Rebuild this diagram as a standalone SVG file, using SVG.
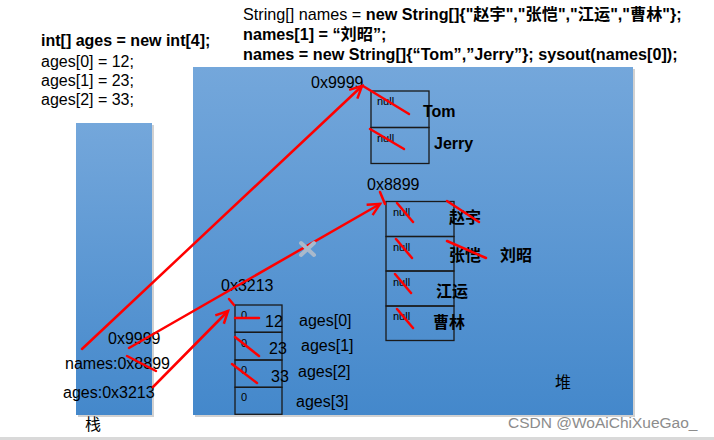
<svg xmlns="http://www.w3.org/2000/svg" width="714" height="440" viewBox="0 0 714 440">
<defs>
<linearGradient id="blue" x1="0" y1="0" x2="0" y2="1">
<stop offset="0" stop-color="#74a7db"/>
<stop offset="1" stop-color="#4488cb"/>
</linearGradient>
<marker id="arr" markerUnits="userSpaceOnUse" markerWidth="16" markerHeight="16" refX="13" refY="7" orient="auto" viewBox="0 0 16 14">
<path d="M1,1 L13,7 L1,13" fill="none" stroke="#ff0000" stroke-width="2.5"/>
</marker>
</defs>
<style>
.t{font-family:"Liberation Sans",Arial,"Noto Sans CJK SC",sans-serif;font-size:16px;fill:#000}
.b{font-weight:bold}
.cr{font-size:16.2px}
.cjk{font-family:"Liberation Sans","Noto Sans CJK SC",sans-serif;font-size:16px;font-weight:bold;fill:#000}
.sm{font-family:"Liberation Sans",Arial,sans-serif;font-size:11px;fill:#000}
.box{fill:none;stroke:#1a1a1a;stroke-width:1.3}
.red{stroke:#ff0000;stroke-width:2.5;fill:none;stroke-linecap:round}
.shadow{fill:#9a9a9a;opacity:0.45}
</style>
<rect x="0" y="0" width="714" height="440" fill="#ffffff"/>
<rect x="0" y="437" width="714" height="3" fill="#d9d9d9"/>

<g id="code-left">
<text class="t b" x="41" y="46">int[] ages = new int[4];</text>
<text class="t" x="41" y="66.5">ages[0] = 12;</text>
<text class="t" x="41" y="85.5">ages[1] = 23;</text>
<text class="t" x="41" y="105">ages[2] = 33;</text>
</g>
<g id="code-right">
<text class="t cr" x="243" y="20">String[] names = <tspan class="b">new String[]{"赵宇","张恺","江运","曹林"};</tspan></text>
<text class="t b cr" x="243" y="39.5">names[1] = “刘昭”;</text>
<text class="t b cr" x="243" y="60">names = new String[]{“Tom”,”Jerry”}; sysout(names[0]);</text>
</g>

<g id="stack">
<rect class="shadow" x="78" y="125" width="76" height="292"/>
<rect x="76" y="123" width="76" height="292" fill="url(#blue)"/>
<text class="t" x="85" y="430">栈</text>
</g>
<g id="heap">
<rect class="shadow" x="195" y="69" width="440" height="348"/>
<rect x="193" y="67" width="440" height="348" fill="url(#blue)"/>
<text class="t" x="555" y="388">堆</text>
</g>

<g id="stack-vars">
<text class="t" x="108" y="343.5" font-size="15.5">0x9999</text>
<text class="t" x="65" y="369" font-size="15.5">names:0x8899</text>
<text class="t" x="63" y="398" font-size="15.5">ages:0x3213</text>
</g>

<g id="array-names-new">
<text class="t" x="311" y="88" font-size="15.5">0x9999</text>
<rect class="box" x="371" y="91" width="58" height="36.5"/>
<rect class="box" x="371" y="127.5" width="58" height="36"/>
<text class="sm" x="377" y="105">null</text>
<text class="sm" x="377" y="142">null</text>
<text class="t b" x="423" y="117">Tom</text>
<text class="t b" x="434" y="149">Jerry</text>
</g>

<g id="array-names">
<text class="t" x="367" y="190" font-size="15.5">0x8899</text>
<rect class="box" x="386" y="201.5" width="68" height="35"/>
<rect class="box" x="386" y="236.5" width="68" height="34.5"/>
<rect class="box" x="386" y="271" width="68" height="35"/>
<rect class="box" x="386" y="306" width="68" height="34.5"/>
<text class="sm" x="393" y="216">null</text>
<text class="sm" x="393" y="251">null</text>
<text class="sm" x="393" y="285.5">null</text>
<text class="sm" x="393" y="320">null</text>
<text class="cjk" x="449" y="223">赵宇</text>
<text class="cjk" x="449" y="261">张恺</text>
<text class="cjk" x="500" y="261">刘昭</text>
<text class="cjk" x="436" y="297">江运</text>
<text class="cjk" x="433" y="327.5">曹林</text>
</g>

<g id="array-ages">
<text class="t" x="221" y="290.5" font-size="15.5">0x3213</text>
<rect class="box" x="235" y="305" width="47" height="27.3"/>
<rect class="box" x="235" y="332.3" width="47" height="27.7"/>
<rect class="box" x="235" y="360" width="47" height="27.3"/>
<rect class="box" x="235" y="387.3" width="47" height="27"/>
<text class="sm" x="241" y="319">0</text>
<text class="sm" x="241" y="346.5">0</text>
<text class="sm" x="241" y="373.5">0</text>
<text class="sm" x="241" y="401">0</text>
<text class="t" x="265" y="327">12</text>
<text class="t" x="269" y="354">23</text>
<text class="t" x="271" y="381.5">33</text>
<text class="t" x="299" y="326">ages[0]</text>
<text class="t" x="301" y="350.5">ages[1]</text>
<text class="t" x="298" y="377">ages[2]</text>
<text class="t" x="296" y="407">ages[3]</text>
</g>

<g id="connectors">
<line class="red" x1="82" y1="349" x2="362" y2="86" marker-end="url(#arr)"/>
<line class="red" x1="129" y1="348" x2="380" y2="204" marker-end="url(#arr)"/>
<line class="red" x1="153" y1="387" x2="228" y2="311" marker-end="url(#arr)"/>
<g id="x-mark" stroke="#a9b9cc" stroke-width="4" stroke-linecap="round">
<line x1="301" y1="243" x2="314" y2="255"/>
<line x1="314" y1="243" x2="301" y2="255"/>
</g>
</g>

<g id="strikes">
<line class="red" x1="127" y1="356" x2="156" y2="371"/>
<line class="red" x1="363" y1="86" x2="409" y2="114"/>
<line class="red" x1="370" y1="129" x2="404" y2="149"/>
<line class="red" x1="380" y1="192" x2="385" y2="204"/>
<line class="red" x1="397" y1="203" x2="413" y2="222"/>
<line class="red" x1="396" y1="239" x2="412" y2="258"/>
<line class="red" x1="395" y1="274" x2="411" y2="293"/>
<line class="red" x1="397" y1="309" x2="413" y2="328"/>
<line class="red" x1="447" y1="201" x2="479" y2="222"/>
<line class="red" x1="447" y1="241" x2="486" y2="258"/>
<line class="red" x1="229" y1="299" x2="234" y2="305"/>
<line class="red" x1="235" y1="318" x2="259" y2="318"/>
<line class="red" x1="235" y1="337" x2="259" y2="356"/>
<line class="red" x1="232" y1="364" x2="257" y2="383"/>
</g>

<text x="508" y="428" font-family="Liberation Sans Narrow,Liberation Sans,sans-serif" font-size="15.5" fill="#8c8c8c">CSDN @WoAiChiXueGao_</text>
</svg>
